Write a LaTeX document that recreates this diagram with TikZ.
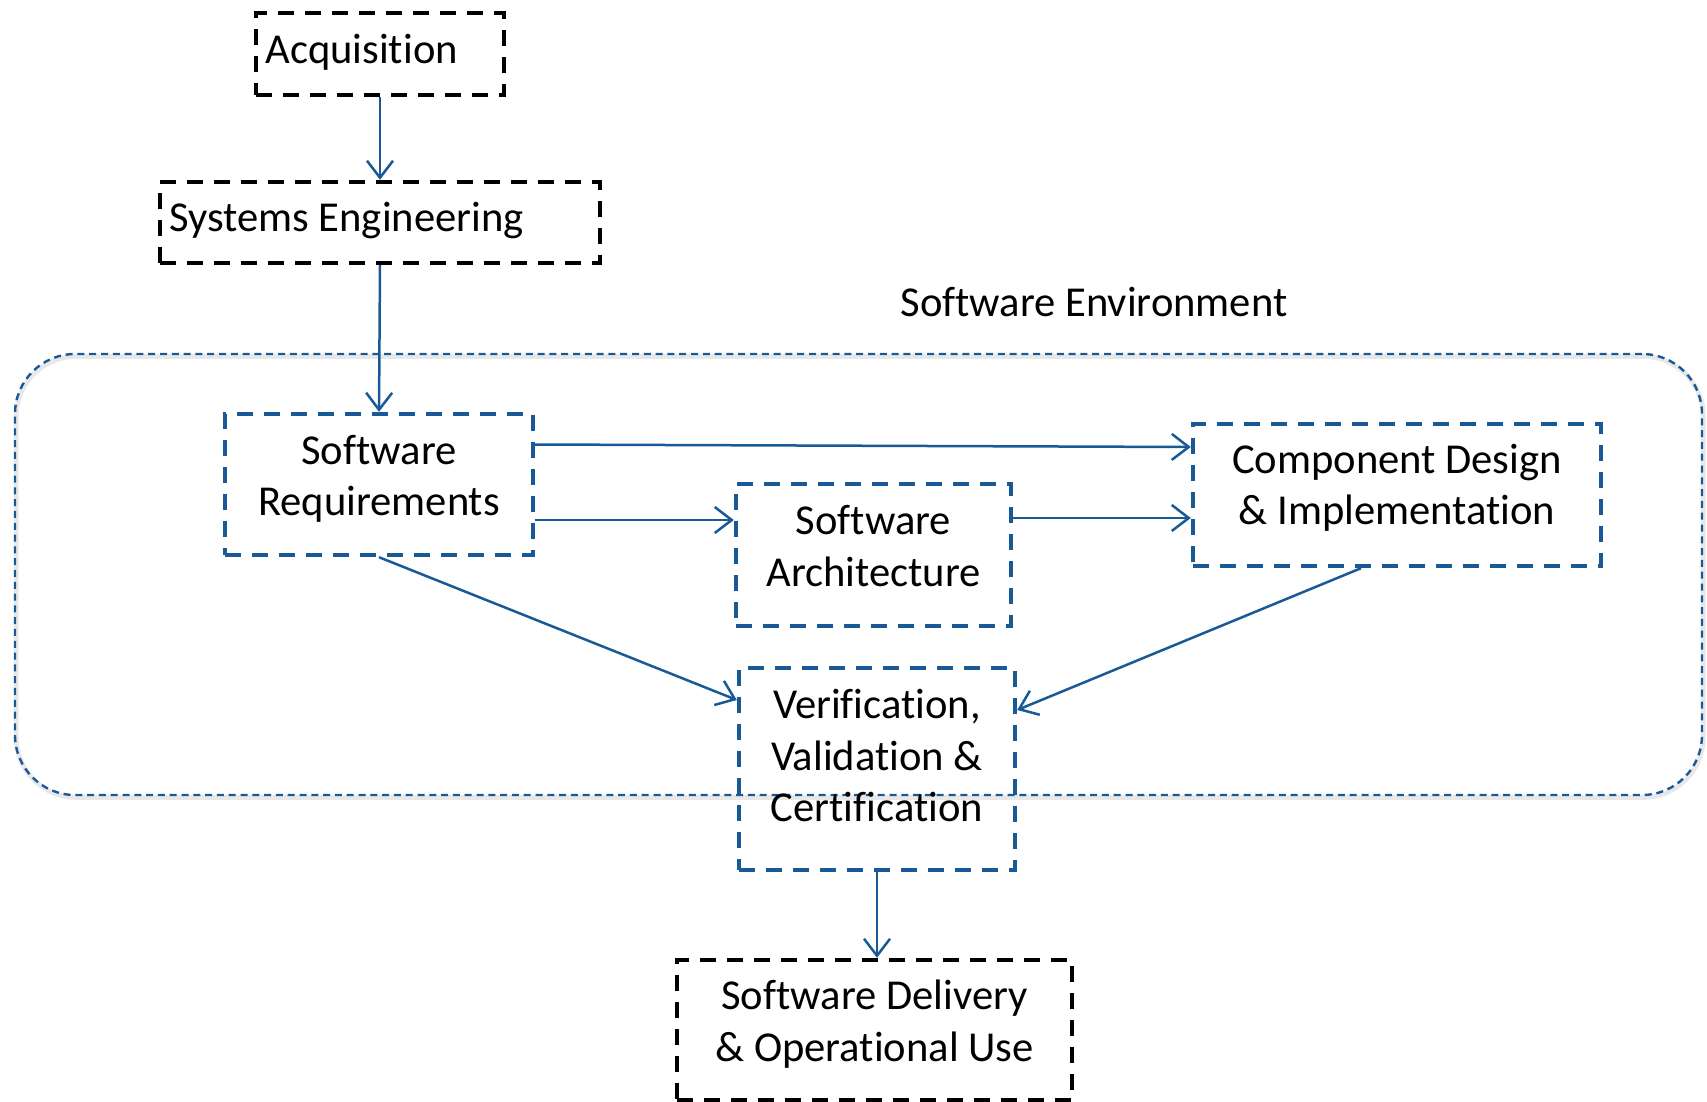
\documentclass[tikz,border=0pt]{standalone}
\usepackage{fontspec}
\setmainfont{Carlito}[Ligatures={NoCommon}]
\usetikzlibrary{arrows.meta,calc}
\definecolor{swblue}{RGB}{25,90,150}
\begin{document}
\begin{tikzpicture}[x=0.5pt,y=-0.5pt,
  box/.style={draw, line width=2.2pt, dash pattern=on 8pt off 5.5pt, inner sep=0pt},
  blackbox/.style={box, draw=black},
  bluebox/.style={box, draw=swblue},
  envbox/.style={draw=swblue, line width=1.2pt, dash pattern=on 3.5pt off 2.4pt,
    rounded corners=30pt, inner sep=0pt,
    preaction={draw=black!9, line width=2.4pt, solid, transform canvas={xshift=0.6pt,yshift=-1.2pt}}},
  lbl/.style={font=\fontsize{21.3pt}{25.7pt}\selectfont, align=center, inner sep=0pt},
  conn/.style={draw=swblue, line width=1.25pt,
    -{Straight Barb[length=8.5pt,width=13pt,line width=1.25pt]}},
]
\useasboundingbox (0,0) rectangle (1707,1102);

% software environment frame
\node[envbox, minimum width=843.5pt, minimum height=220.5pt] (env) at (858.5,574.5) {};
\node[lbl] (envlbl) at (1094,302) {Software Environment};

% boxes
\node[blackbox, minimum width=124pt, minimum height=41pt] (acq) at (380,54) {};
\node[lbl, anchor=west] (acqlbl) at (265,52) {Acquisition};

\node[blackbox, minimum width=220pt, minimum height=40.5pt] (sys) at (380,222.5) {};
\node[lbl, anchor=west] (syslbl) at (169,221) {Systems Engineering};

\node[bluebox, minimum width=154pt, minimum height=70.5pt] (req) at (379,484.5) {};
\node[lbl] (reqlbl) at (379,479) {Software\\Requirements};

\node[bluebox, minimum width=137.5pt, minimum height=71pt] (arch) at (873.5,555) {};
\node[lbl] (archlbl) at (873.5,546) {Software\\Architecture};

\node[bluebox, minimum width=204pt, minimum height=71pt] (comp) at (1397,495) {};
\node[lbl] (complbl) at (1397,488) {Component Design\\\& Implementation};

\node[bluebox, minimum width=138pt, minimum height=101pt] (ver) at (877,769) {};
\node[lbl] (verlbl) at (877,755.5) {Verification,\\Validation \&\\Certification};

\node[blackbox, minimum width=197.5pt, minimum height=70pt] (del) at (874.5,1030) {};
\node[lbl] (dellbl) at (874.5,1024) {Software Delivery\\\& Operational Use};

% connectors
\draw[conn] (acq.south) -- (sys.north);
\draw[conn] (sys.south) -- (req.north);
\draw[conn] ([yshift=20pt]req.east) -- ([yshift=24pt]comp.west);
\draw[conn] ([yshift=-17.75pt]req.east) -- ([yshift=17.5pt]arch.west);
\draw[conn] ([yshift=18.5pt]arch.east) -- ([yshift=-11.5pt]comp.west);
\draw[conn] (req.south) -- ([yshift=34.5pt]ver.west);
\draw[conn] ([xshift=-18pt]comp.south) -- ([yshift=29.5pt]ver.east);
\draw[conn] (ver.south) -- (ver.south |- del.north);
\end{tikzpicture}
\end{document}
